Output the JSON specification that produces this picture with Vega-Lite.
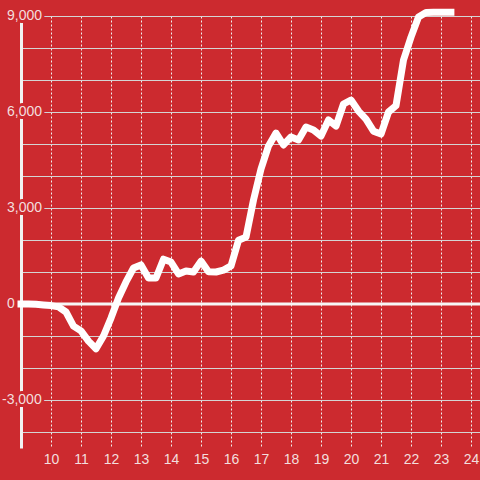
{
  "$schema": "https://vega.github.io/schema/vega-lite/v6.json",
  "width": 459,
  "height": 432,
  "autosize": "none",
  "padding": {"left": 21, "top": 16, "right": 0, "bottom": 32},
  "background": "#cc2a2f",
  "config": {"view": {"stroke": null}, "font": "Liberation Sans"},
  "layer": [
    {
      "data": {"values": [{}]},
      "mark": {"type": "rule", "color": "#f7f7f7", "strokeWidth": 3},
      "encoding": {"y": {"datum": 0, "type": "quantitative", "scale": {"domain": [-4500, 9000], "nice": false, "zero": false}, "axis": {"title": null, "values": [-4000, -3000, -2000, -1000, 0, 1000, 2000, 3000, 4000, 5000, 6000, 7000, 8000, 9000], "grid": true, "gridColor": "#d4d4d4", "gridWidth": 1, "domain": true, "domainColor": "#f2f2f2", "domainWidth": 3, "ticks": false, "labels": false}}}
    },
    {
      "data": {"values": [{"v": 9000, "label": "9,000"}, {"v": 6000, "label": "6,000"}, {"v": 3000, "label": "3,000"}, {"v": 0, "label": "0"}]},
      "mark": {"type": "text", "align": "left", "baseline": "middle", "dx": -14, "fontSize": 14, "font": "Liberation Sans", "fill": "#cc2a2f", "stroke": "#cc2a2f", "strokeWidth": 6, "strokeJoin": "round"},
      "encoding": {
        "x": {"datum": 9, "type": "quantitative", "scale": {"domain": [9, 24.3], "nice": false, "zero": false}, "axis": {"title": null, "values": [10, 11, 12, 13, 14, 15, 16, 17, 18, 19, 20, 21, 22, 23, 24], "grid": true, "gridColor": "#f0f0f0", "gridDash": [2, 2], "gridWidth": 1, "domain": false, "ticks": false, "labelFontSize": 14, "labelFont": "Liberation Sans", "labelColor": "#f3dede", "labelPadding": 4, "labelOverlap": false}},
        "y": {"field": "v", "type": "quantitative", "scale": {"domain": [-4500, 9000], "nice": false, "zero": false}, "axis": {"title": null, "values": [-4000, -3000, -2000, -1000, 0, 1000, 2000, 3000, 4000, 5000, 6000, 7000, 8000, 9000], "grid": true, "gridColor": "#d4d4d4", "gridWidth": 1, "domain": true, "domainColor": "#f2f2f2", "domainWidth": 3, "ticks": false, "labels": false}},
        "text": {"field": "label"}
      }
    },
    {
      "data": {"values": [{"v": -3000, "label": "-3,000"}]},
      "mark": {"type": "text", "align": "left", "baseline": "middle", "dx": -19, "fontSize": 14, "font": "Liberation Sans", "fill": "#cc2a2f", "stroke": "#cc2a2f", "strokeWidth": 6, "strokeJoin": "round"},
      "encoding": {
        "x": {"datum": 9, "type": "quantitative", "scale": {"domain": [9, 24.3], "nice": false, "zero": false}, "axis": {"title": null, "values": [10, 11, 12, 13, 14, 15, 16, 17, 18, 19, 20, 21, 22, 23, 24], "grid": true, "gridColor": "#f0f0f0", "gridDash": [2, 2], "gridWidth": 1, "domain": false, "ticks": false, "labelFontSize": 14, "labelFont": "Liberation Sans", "labelColor": "#f3dede", "labelPadding": 4, "labelOverlap": false}},
        "y": {"field": "v", "type": "quantitative", "scale": {"domain": [-4500, 9000], "nice": false, "zero": false}, "axis": {"title": null, "values": [-4000, -3000, -2000, -1000, 0, 1000, 2000, 3000, 4000, 5000, 6000, 7000, 8000, 9000], "grid": true, "gridColor": "#d4d4d4", "gridWidth": 1, "domain": true, "domainColor": "#f2f2f2", "domainWidth": 3, "ticks": false, "labels": false}},
        "text": {"field": "label"}
      }
    },
    {
      "data": {"values": [{"v": 9000, "label": "9,000"}, {"v": 6000, "label": "6,000"}, {"v": 3000, "label": "3,000"}, {"v": 0, "label": "0"}]},
      "mark": {"type": "text", "align": "left", "baseline": "middle", "dx": -14, "fontSize": 14, "font": "Liberation Sans", "fill": "#f3dede"},
      "encoding": {
        "x": {"datum": 9, "type": "quantitative", "scale": {"domain": [9, 24.3], "nice": false, "zero": false}, "axis": {"title": null, "values": [10, 11, 12, 13, 14, 15, 16, 17, 18, 19, 20, 21, 22, 23, 24], "grid": true, "gridColor": "#f0f0f0", "gridDash": [2, 2], "gridWidth": 1, "domain": false, "ticks": false, "labelFontSize": 14, "labelFont": "Liberation Sans", "labelColor": "#f3dede", "labelPadding": 4, "labelOverlap": false}},
        "y": {"field": "v", "type": "quantitative", "scale": {"domain": [-4500, 9000], "nice": false, "zero": false}, "axis": {"title": null, "values": [-4000, -3000, -2000, -1000, 0, 1000, 2000, 3000, 4000, 5000, 6000, 7000, 8000, 9000], "grid": true, "gridColor": "#d4d4d4", "gridWidth": 1, "domain": true, "domainColor": "#f2f2f2", "domainWidth": 3, "ticks": false, "labels": false}},
        "text": {"field": "label"}
      }
    },
    {
      "data": {"values": [{"v": -3000, "label": "-3,000"}]},
      "mark": {"type": "text", "align": "left", "baseline": "middle", "dx": -19, "fontSize": 14, "font": "Liberation Sans", "fill": "#f3dede"},
      "encoding": {
        "x": {"datum": 9, "type": "quantitative", "scale": {"domain": [9, 24.3], "nice": false, "zero": false}, "axis": {"title": null, "values": [10, 11, 12, 13, 14, 15, 16, 17, 18, 19, 20, 21, 22, 23, 24], "grid": true, "gridColor": "#f0f0f0", "gridDash": [2, 2], "gridWidth": 1, "domain": false, "ticks": false, "labelFontSize": 14, "labelFont": "Liberation Sans", "labelColor": "#f3dede", "labelPadding": 4, "labelOverlap": false}},
        "y": {"field": "v", "type": "quantitative", "scale": {"domain": [-4500, 9000], "nice": false, "zero": false}, "axis": {"title": null, "values": [-4000, -3000, -2000, -1000, 0, 1000, 2000, 3000, 4000, 5000, 6000, 7000, 8000, 9000], "grid": true, "gridColor": "#d4d4d4", "gridWidth": 1, "domain": true, "domainColor": "#f2f2f2", "domainWidth": 3, "ticks": false, "labels": false}},
        "text": {"field": "label"}
      }
    },
    {
      "data": {"values": [
        {"t": 9, "v": 0}, {"t": 9.25, "v": 0}, {"t": 9.5, "v": -10}, {"t": 9.75, "v": -30},
        {"t": 10, "v": -50}, {"t": 10.25, "v": -90}, {"t": 10.5, "v": -250}, {"t": 10.75, "v": -690},
        {"t": 11, "v": -840}, {"t": 11.25, "v": -1160}, {"t": 11.5, "v": -1400}, {"t": 11.75, "v": -1000},
        {"t": 12, "v": -440}, {"t": 12.25, "v": 190}, {"t": 12.5, "v": 690}, {"t": 12.75, "v": 1125},
        {"t": 13, "v": 1220}, {"t": 13.25, "v": 810}, {"t": 13.5, "v": 810}, {"t": 13.75, "v": 1400},
        {"t": 14, "v": 1310}, {"t": 14.25, "v": 940}, {"t": 14.5, "v": 1030}, {"t": 14.75, "v": 1000},
        {"t": 15, "v": 1340}, {"t": 15.25, "v": 1010}, {"t": 15.5, "v": 1000}, {"t": 15.75, "v": 1060},
        {"t": 16, "v": 1190}, {"t": 16.25, "v": 1990}, {"t": 16.5, "v": 2090}, {"t": 16.75, "v": 3250},
        {"t": 17, "v": 4220}, {"t": 17.25, "v": 4940}, {"t": 17.5, "v": 5340}, {"t": 17.75, "v": 4970},
        {"t": 18, "v": 5220}, {"t": 18.25, "v": 5125}, {"t": 18.5, "v": 5530}, {"t": 18.75, "v": 5440},
        {"t": 19, "v": 5250}, {"t": 19.25, "v": 5750}, {"t": 19.5, "v": 5560}, {"t": 19.75, "v": 6250},
        {"t": 20, "v": 6375}, {"t": 20.25, "v": 6030}, {"t": 20.5, "v": 5780}, {"t": 20.75, "v": 5400},
        {"t": 21, "v": 5310}, {"t": 21.25, "v": 6000}, {"t": 21.5, "v": 6200}, {"t": 21.75, "v": 7625},
        {"t": 22, "v": 8340}, {"t": 22.25, "v": 8970}, {"t": 22.5, "v": 9110}, {"t": 22.75, "v": 9115},
        {"t": 23, "v": 9115}, {"t": 23.25, "v": 9115}, {"t": 23.33, "v": 9115}
      ]},
      "mark": {"type": "line", "color": "#ffffff", "strokeWidth": 7, "strokeCap": "square", "strokeJoin": "round"},
      "encoding": {
        "x": {"field": "t", "type": "quantitative", "scale": {"domain": [9, 24.3], "nice": false, "zero": false}, "axis": {"title": null, "values": [10, 11, 12, 13, 14, 15, 16, 17, 18, 19, 20, 21, 22, 23, 24], "grid": true, "gridColor": "#f0f0f0", "gridDash": [2, 2], "gridWidth": 1, "domain": false, "ticks": false, "labelFontSize": 14, "labelFont": "Liberation Sans", "labelColor": "#f3dede", "labelPadding": 4, "labelOverlap": false}},
        "y": {"field": "v", "type": "quantitative", "scale": {"domain": [-4500, 9000], "nice": false, "zero": false}, "axis": {"title": null, "values": [-4000, -3000, -2000, -1000, 0, 1000, 2000, 3000, 4000, 5000, 6000, 7000, 8000, 9000], "grid": true, "gridColor": "#d4d4d4", "gridWidth": 1, "domain": true, "domainColor": "#f2f2f2", "domainWidth": 3, "ticks": false, "labels": false}}
      }
    }
  ]
}
